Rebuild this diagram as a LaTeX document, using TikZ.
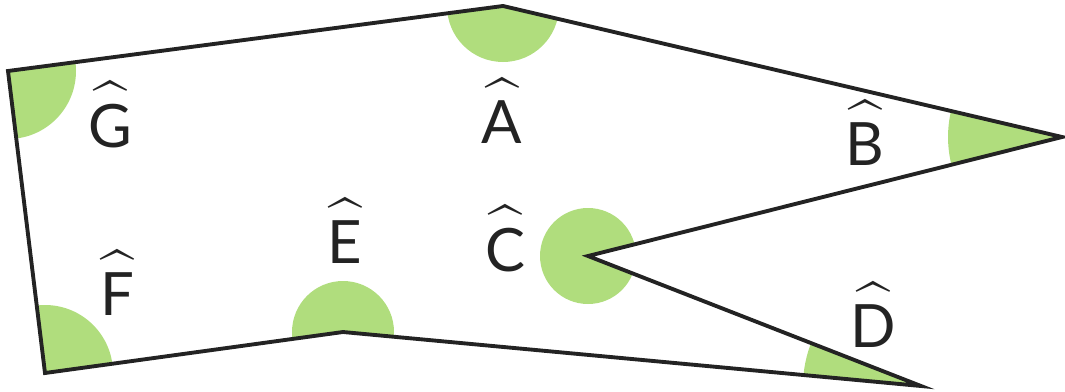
\documentclass[tikz,border=0pt]{standalone}
\usepackage{amsmath}
\usepackage{fontspec}
\setmainfont{Lato}
\usepackage{tikz}
\definecolor{anglegreen}{RGB}{176,221,125}
\definecolor{edgegray}{RGB}{35,35,35}
\newcommand{\anglab}[1]{$\widehat{\text{\raisebox{0pt}[1.1\height]{#1}}}$}

\begin{document}
\begin{tikzpicture}[x=0.01cm,y=-0.01cm,
    lab/.style={anchor=base,inner sep=0pt,text=edgegray,font=\fontsize{17}{20}\selectfont}]
  \useasboundingbox (0,0) rectangle (1065,391);
  % vertices of the polygon
  \coordinate (G) at (8,71);
  \coordinate (A) at (503,6);
  \coordinate (B) at (1062,137);
  \coordinate (C) at (588,256);
  \coordinate (D) at (921,386);
  \coordinate (E) at (343,332);
  \coordinate (F) at (45,373);
  % angle sectors
  \begin{scope}
    \clip (G) -- (A) -- (B) -- (C) -- (D) -- (E) -- (F) -- cycle;
    \fill[anglegreen] (G) circle[radius=68] (A) circle[radius=56]
      (B) circle[radius=114] (C) circle[radius=48] (D) circle[radius=118]
      (E) circle[radius=51] (F) circle[radius=68];
  \end{scope}
  \draw[edgegray,line width=1.1pt] (G) -- (A) -- (B) -- (C) -- (D) -- (E) -- (F) -- cycle;
  % labels
  \node[lab] (lG) at (110,147) {\anglab{G}};
  \node[lab] (lA) at (502,143) {\anglab{A}};
  \node[lab] (lB) at (865,165) {\anglab{B}};
  \node[lab] (lC) at (505,271) {\anglab{C}};
  \node[lab] (lD) at (873,347) {\anglab{D}};
  \node[lab] (lE) at (345,263) {\anglab{E}};
  \node[lab] (lF) at (117,315) {\anglab{F}};
\end{tikzpicture}
\end{document}
